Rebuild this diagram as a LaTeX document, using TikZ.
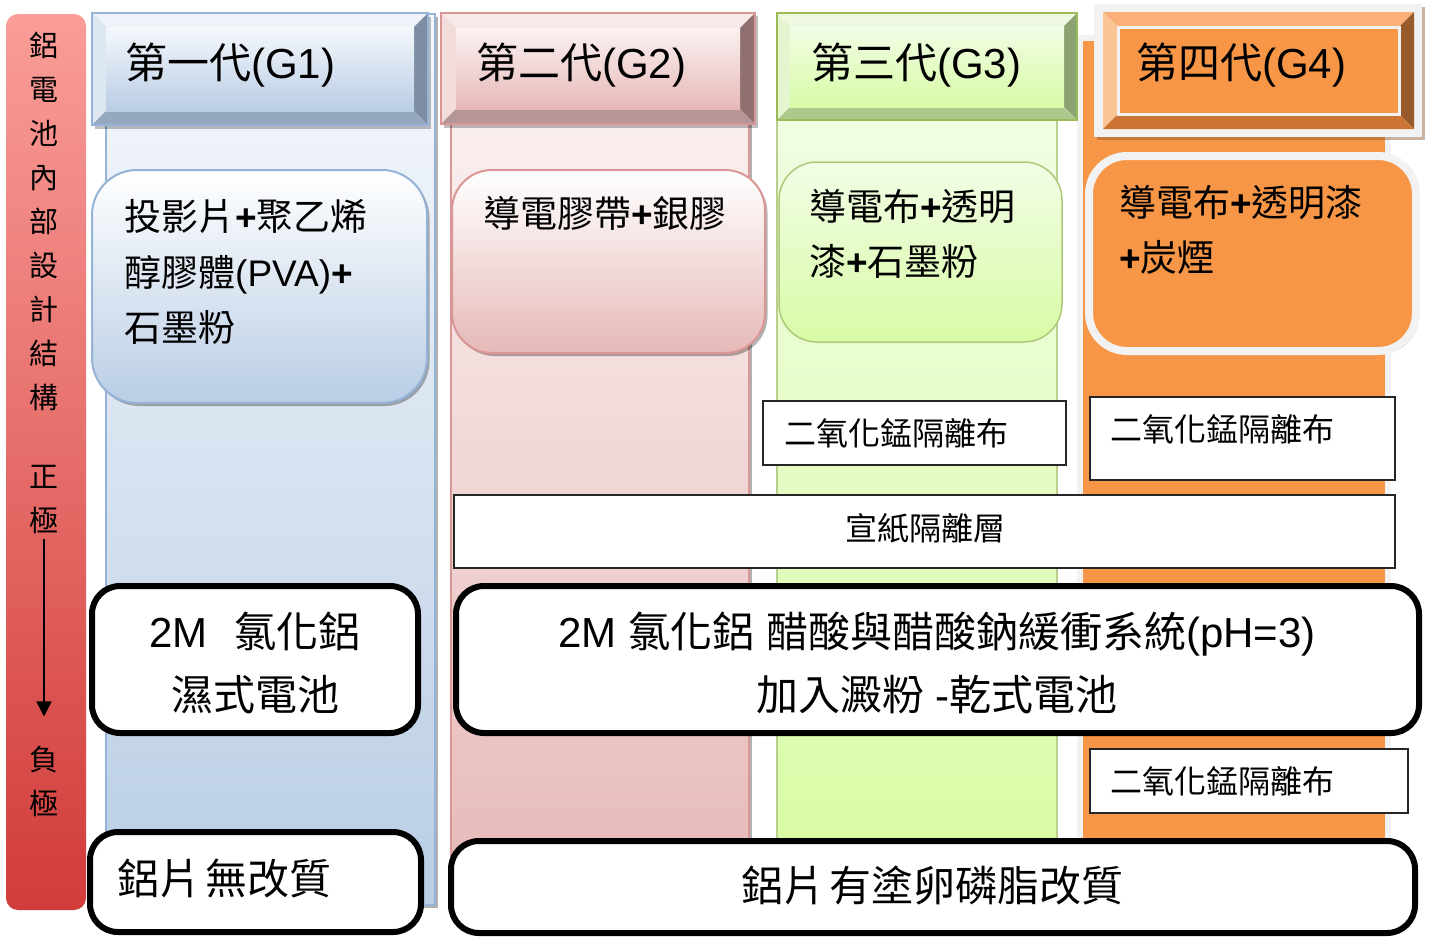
\documentclass[tikz,border=0pt]{standalone}
\usepackage{fontspec}
\setmainfont{Noto Sans CJK TC}
\newfontfamily\lat{Liberation Sans}
\usetikzlibrary{shadows,arrows.meta}
\definecolor{gbd}{HTML}{95B3D7}
\definecolor{gtop}{HTML}{F6F9FC}
\definecolor{gbot}{HTML}{B9CDE5}
\definecolor{pbd}{HTML}{D99694}
\definecolor{ptop}{HTML}{FCF6F6}
\definecolor{pbot}{HTML}{E6B9B8}
\definecolor{lbd}{HTML}{9BBB59}
\definecolor{ltop}{HTML}{F4FDEA}
\definecolor{lbot}{HTML}{D9FCA6}
\definecolor{org}{HTML}{F79646}
\definecolor{frm}{HTML}{F2F2F2}
\definecolor{bartop}{HTML}{FA9D98}
\definecolor{barbot}{HTML}{D13C3A}
\definecolor{gbT}{HTML}{EEF3F9}\definecolor{gbL}{HTML}{DDE7F2}\definecolor{gbR}{HTML}{7D8DA4}\definecolor{gbB}{HTML}{96A8BF}
\definecolor{pbT}{HTML}{F8E9E9}\definecolor{pbL}{HTML}{F2DDDC}\definecolor{pbR}{HTML}{8F6F6F}\definecolor{pbB}{HTML}{B59595}
\definecolor{lbT}{HTML}{EFF9E2}\definecolor{lbL}{HTML}{E5F5D0}\definecolor{lbR}{HTML}{8BA271}\definecolor{lbB}{HTML}{ADC88C}
\definecolor{obT}{HTML}{FAB077}\definecolor{obL}{HTML}{FBC495}\definecolor{obR}{HTML}{975A2B}\definecolor{obB}{HTML}{CC7434}
\definecolor{gface}{HTML}{F5F8FC}\definecolor{pface}{HTML}{FBF1F1}\definecolor{lface}{HTML}{F2FDE6}\definecolor{lfaceb}{HTML}{D8FBA6}
\definecolor{shbrown}{HTML}{8A5A30}
\newcommand\plus{{\lat\bfseries +}}
\newcommand\bev[9]{%
  \fill[#6] (#1,#2) -- (#3,#2) -- ({#3-#5},{#2+#5}) -- ({#1+#5},{#2+#5}) -- cycle;
  \fill[#7] (#1,#2) -- ({#1+#5},{#2+#5}) -- ({#1+#5},{#4-#5}) -- (#1,#4) -- cycle;
  \fill[#8] (#3,#2) -- (#3,#4) -- ({#3-#5},{#4-#5}) -- ({#3-#5},{#2+#5}) -- cycle;
  \fill[#9] (#1,#4) -- (#3,#4) -- ({#3-#5},{#4-#5}) -- ({#1+#5},{#4-#5}) -- cycle;
}
\begin{document}
\begin{tikzpicture}[x=1pt,y=-1pt,
  shad/.style={drop shadow={shadow xshift=2.5pt,shadow yshift=-3pt,opacity=0.3,fill=black}},
  bshad/.style={drop shadow={shadow xshift=3pt,shadow yshift=-3pt,opacity=0.45,fill=shbrown}},
  title/.style={font=\fontsize{42}{50}\selectfont, anchor=west, inner sep=0pt},
  ctext/.style={font=\fontsize{37}{55.5}\selectfont, align=left, anchor=west, inner sep=0pt},
  vtext/.style={font=\fontsize{29}{44}\selectfont, align=center, inner sep=0pt},
  mntext/.style={font=\fontsize{32}{40}\selectfont, anchor=west, inner sep=0pt},
  btext/.style={font=\fontsize{42}{63}\selectfont, align=center, inner sep=0pt},
  thinbox/.style={draw=black!85, line width=2pt, fill=white},
  thickbox/.style={draw=black, line width=6pt, fill=white, rounded corners=28pt},
]
\useasboundingbox (0,0) rectangle (1429,937);
% left bar
\shade[top color=bartop, bottom color=barbot, rounded corners=12pt] (6,14) rectangle (86,910);
\node[vtext] (bar) at (44,221) {鋁\\電\\池\\內\\部\\設\\計\\結\\構};
\node[vtext] (zheng) at (44,500) {正\\極};
\node[vtext] (fu) at (44,781) {負\\極};
\draw[line width=1.6pt, -{Triangle[length=15pt,width=15pt]}, shorten <=5pt, shorten >=29pt] (zheng.south) -- (fu.north);
% column bodies
\path[draw=gbd, line width=2pt, top color=gtop, bottom color=gbot, shad] (106,14) rectangle (435,905);
\path[draw=pbd, line width=2pt, top color=ptop, bottom color=pbot, shad] (451,14) rectangle (749,900);
\path[draw=lbd!70, line width=1.5pt, top color=ltop, bottom color=lbot] (777,14) rectangle (1057,845);
\path[draw=frm, line width=6pt, fill=org, drop shadow={shadow xshift=3pt,shadow yshift=0pt,opacity=0.45,fill=shbrown}] (1080,38) rectangle (1388,845);
% headers
\fill[black, opacity=0.25] (95,17) rectangle (431,129);
\bev{92}{13}{428}{125}{14}{gbT}{gbL}{gbR}{gbB}
\shade[top color=gface, bottom color=gbot] (106,27) rectangle (414,111);
\draw[gbd, line width=1.5pt] (92,13) rectangle (428,125);
\node[title] (t1) at (125,65) {第一代{\lat (G1)}};
\fill[black, opacity=0.25] (444,16) rectangle (758,128);
\bev{441}{13}{755}{124}{15}{pbT}{pbL}{pbR}{pbB}
\shade[top color=pface, bottom color=pbot] (456,28) rectangle (740,109);
\draw[pbd, line width=1.5pt] (441,13) rectangle (755,124);
\node[title] (t2) at (476,65) {第二代{\lat (G2)}};
\bev{777}{13}{1077}{120}{13}{lbT}{lbL}{lbR}{lbB}
\shade[top color=lface, bottom color=lfaceb] (790,26) rectangle (1064,107);
\draw[lbd, line width=1.5pt] (777,13) rectangle (1077,120);
\node[title] (t3) at (811,65) {第三代{\lat (G3)}};
\path[fill=frm, bshad] (1094,4) rectangle (1422,137);
\bev{1103}{12}{1414}{129}{15}{obT}{obL}{obR}{obB}
\draw[frm, line width=3pt, fill=org] (1118,27) rectangle (1399,114);
\node[title] (t4) at (1136,65) {第四代{\lat (G4)}};
% content boxes
\path[draw=gbd, line width=2pt, top color=white, bottom color=gbot, rounded corners=45pt, shad] (92,170) rectangle (427,403);
\node[ctext] (c1) at (124,272) {投影片\plus 聚乙烯\\醇膠體{\lat (PVA)}\plus\\石墨粉};
\path[draw=pbd, line width=2pt, top color=white, bottom color=pbot, rounded corners=40pt, shad] (452,170) rectangle (765,353);
\node[ctext, anchor=center] (c2) at (605,213) {導電膠帶\plus 銀膠};
\path[draw=lbd!80, line width=1.5pt, top color=lface, bottom color=lfaceb, rounded corners=38pt] (779,162) rectangle (1062,342);
\node[ctext] (c3) at (809,234) {導電布\plus 透明\\漆\plus 石墨粉};
\path[draw=frm, line width=8pt, fill=org, rounded corners=38pt, bshad] (1089,156) rectangle (1416,351);
\node[ctext] (c4) at (1119,230) {導電布\plus 透明漆\\\plus 炭煙};
% thin boxes
\draw[thinbox] (763,401) rectangle (1066,465);
\node[mntext] (m1) at (784,433) {二氧化錳隔離布};
\draw[thinbox] (1090,397) rectangle (1395,480);
\node[mntext] (m2) at (1110,429) {二氧化錳隔離布};
\draw[thinbox] (454,495) rectangle (1395,568);
\node[mntext, anchor=center] (xz) at (925,528) {宣紙隔離層};
\draw[thinbox] (1090,749) rectangle (1408,813);
\node[mntext] (m3) at (1110,781) {二氧化錳隔離布};
% thick boxes
\draw[thickbox] (92,586) rectangle (418,733);
\node[btext] (e1) at (255,663) {{\lat 2M}\hspace{27pt}氯化鋁\\濕式電池};
\draw[thickbox] (456,586) rectangle (1419,733);
\node[btext] (e2) at (937,663) {{\lat 2M }氯化鋁{\lat\ }醋酸與醋酸鈉緩衝系統{\lat (pH=3)}\\加入澱粉{\lat\ -}乾式電池};
\draw[thickbox] (90,832) rectangle (421,932);
\node[btext, anchor=west] (f1) at (117,878) {鋁片\hspace{4pt}無改質};
\draw[thickbox] (451,841) rectangle (1415,933);
\node[btext] (f2) at (932,886) {鋁片\hspace{4pt}有塗卵磷脂改質};
\end{tikzpicture}
\end{document}
